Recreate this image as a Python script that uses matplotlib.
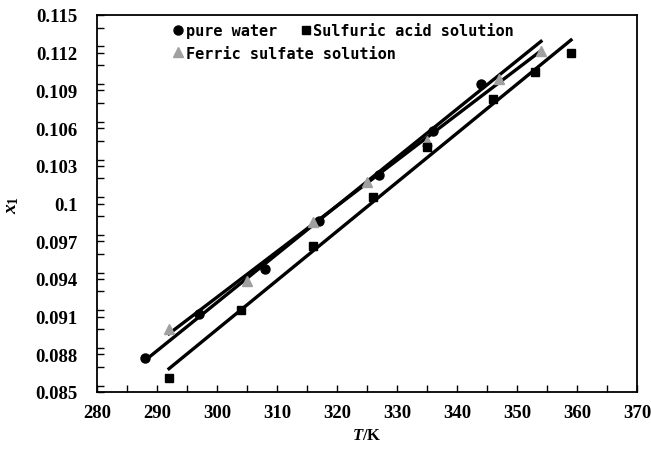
import numpy as np
import matplotlib
matplotlib.use('Agg')
import matplotlib.pyplot as plt
from matplotlib.ticker import MultipleLocator, FixedLocator

# Dados
T_water = [288, 297, 308, 317, 327, 336, 344]
x_water = [0.0877, 0.0912, 0.0948, 0.0986, 0.1023, 0.1058, 0.1095]

T_acid = [292, 304, 316, 326, 335, 346, 353, 359]
x_acid = [0.0861, 0.0915, 0.0966, 0.1005, 0.1045, 0.1083, 0.1105, 0.1120]

T_ferric = [292, 305, 316, 325, 335, 347, 354]
x_ferric = [0.0900, 0.0938, 0.0985, 0.1017, 0.1050, 0.1099, 0.1121]

y_ticks = [0.085, 0.088, 0.091, 0.094, 0.097, 0.1, 0.103, 0.106, 0.109, 0.112, 0.115]
y_labels = ['0.085', '0.088', '0.091', '0.094', '0.097', '0.1',
            '0.103', '0.106', '0.109', '0.112', '0.115']

plt.rcParams['font.family'] = ['Liberation Serif', 'DejaVu Serif']
plt.rcParams['mathtext.fontset'] = 'custom'
plt.rcParams['mathtext.it'] = 'Liberation Serif:italic:bold'
plt.rcParams['mathtext.rm'] = 'Liberation Serif:bold'

fig = plt.figure(figsize=(6.51, 4.52), dpi=100)
ax = fig.add_axes([97 / 651, 1 - 393 / 452, 540 / 651, 377 / 452])


def reta(T, x, t_fim=None):
    a, b = np.polyfit(T, x, 1)
    t0 = T[0]
    t1 = T[-1] if t_fim is None else t_fim
    tt = np.array([t0, t1])
    return tt, a * tt + b


# Retas ajustadas
tt, yy = reta(T_water, x_water, 354)
ax.plot(tt, yy, color='black', lw=2.4, zorder=2)
tt, yy = reta(T_ferric, x_ferric)
ax.plot(tt, yy, color='black', lw=2.4, zorder=2)
tt, yy = reta(T_acid, x_acid)
ax.plot(tt, yy, color='black', lw=2.4, zorder=2)

# Pontos experimentais
h1, = ax.plot(T_water, x_water, 'o', color='black', ms=6.5, ls='none', zorder=3,
              label='pure water')
h3, = ax.plot(T_ferric, x_ferric, '^', color='#a0a0a0', ms=6.5, ls='none', zorder=3,
              label='Ferric sulfate solution')
h2, = ax.plot(T_acid, x_acid, 's', color='black', ms=6, ls='none', zorder=3,
              label='Sulfuric acid solution')

ax.set_xlim(280, 370)
ax.set_ylim(0.085, 0.115)
ax.xaxis.set_major_locator(MultipleLocator(10))
ax.xaxis.set_minor_locator(MultipleLocator(5))
ax.yaxis.set_major_locator(FixedLocator(y_ticks))
ax.set_yticklabels(y_labels)
ax.yaxis.set_minor_locator(MultipleLocator(0.0015))
ax.tick_params(which='both', direction='in', top=False, right=False,
               labelsize=13.5, width=1)
ax.tick_params(which='major', length=5)
ax.tick_params(which='minor', length=5)
ax.tick_params(axis='x', which='major', pad=9)
ax.tick_params(axis='y', which='major', pad=14)
for lab in ax.get_xticklabels() + ax.get_yticklabels():
    lab.set_fontweight('bold')
for s in ax.spines.values():
    s.set_linewidth(1.3)

ax.set_xlabel(r'$T$/K', fontsize=12, fontweight='bold', labelpad=4)
ax.set_ylabel(r'$x_1$', fontsize=14, labelpad=10)

font_leg = {'family': 'DejaVu Sans Mono', 'weight': 'bold', 'size': 11}
leg1 = ax.legend(handles=[h1, h2], ncol=2, loc='upper left',
                 bbox_to_anchor=(0.13, 0.995), frameon=False, prop=font_leg,
                 handlelength=0.6, handletextpad=0.2, columnspacing=1.6,
                 borderaxespad=0)
ax.add_artist(leg1)
ax.legend(handles=[h3], loc='upper left', bbox_to_anchor=(0.13, 0.935),
          frameon=False, prop=font_leg, handlelength=0.6, handletextpad=0.2,
          borderaxespad=0)

fig.savefig('out.png', dpi=100)
